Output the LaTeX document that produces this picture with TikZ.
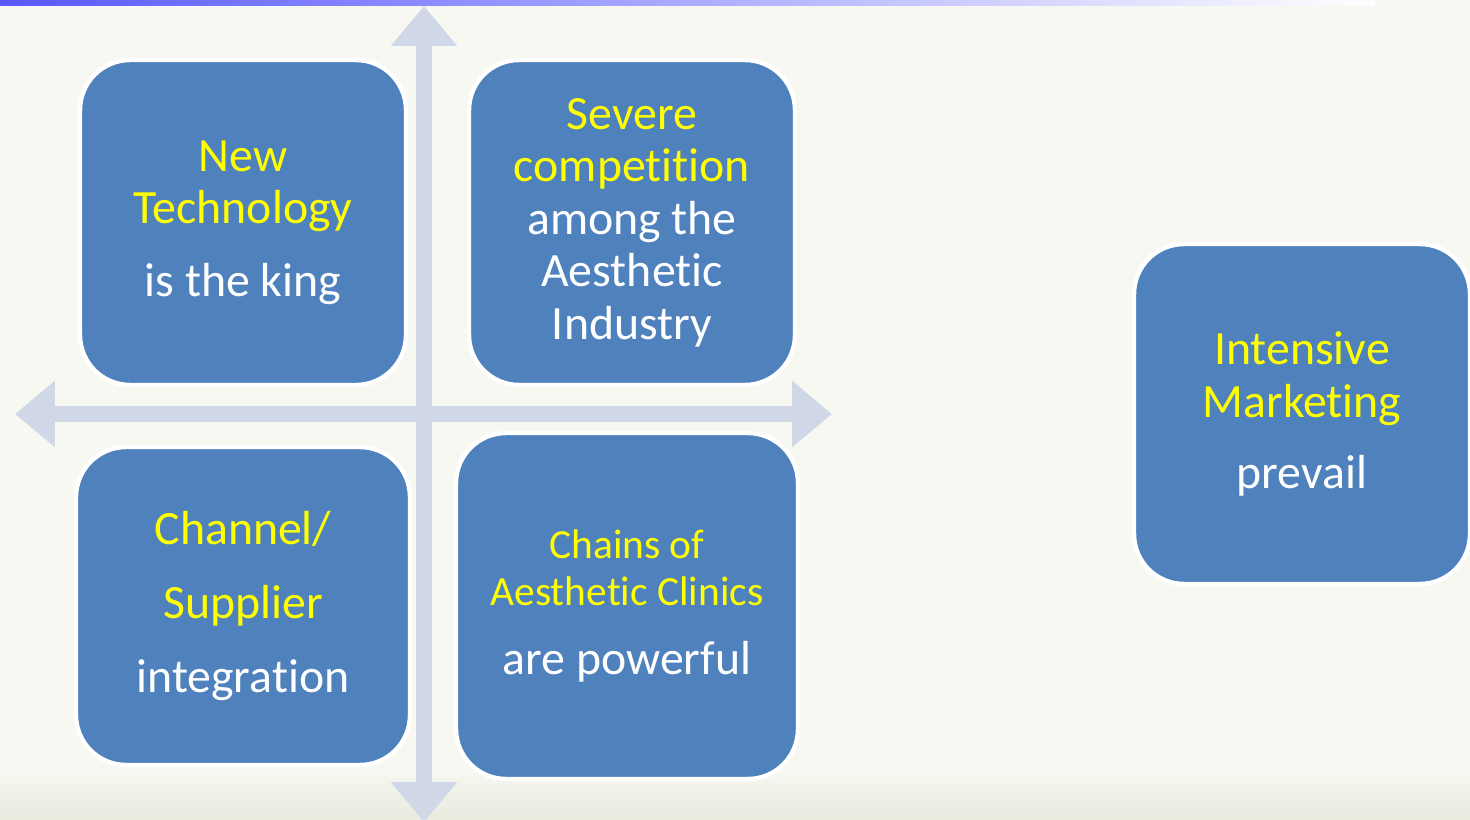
\documentclass[tikz,border=0pt]{standalone}
\usepackage{fontspec}
\setmainfont{Carlito}[Ligatures={NoCommon,NoContextual,NoRare}]
\usetikzlibrary{positioning,arrows.meta}
\definecolor{boxblue}{RGB}{79,129,189}
\definecolor{axisgray}{RGB}{208,216,232}
\definecolor{slidebg}{RGB}{247,248,242}
\definecolor{slidebottom}{RGB}{232,235,222}
\definecolor{hiyellow}{RGB}{255,255,0}
\definecolor{barblue}{RGB}{88,88,255}
\newcommand{\yl}[1]{\textcolor{hiyellow}{#1}}
\newcommand{\smallline}{\fontsize{23.6}{26}\selectfont}
\tikzset{
  quad/.style={rectangle,rounded corners=1cm,inner sep=0pt,fill=boxblue,
    draw=white,line width=2.5pt,align=center,text=white,
    font=\fontsize{27.2}{29.9}\selectfont},
  axis/.style={axisgray,line width=0.33cm,
    {Triangle[width=1.28cm,length=0.8cm]}-{Triangle[width=1.28cm,length=0.8cm]}}
}

\begin{document}
\begin{tikzpicture}[x=0.02cm,y=-0.02cm]
    % Slide background
    \fill[slidebg] (0,0) rectangle (1470,819);
    \useasboundingbox (0,0) rectangle (1470,819);
    \shade[top color=slidebg,bottom color=slidebottom] (0,770) rectangle (1470,819);
    \shade[left color=barblue,right color=white] (0,0) rectangle (1375,5);

    % Axis ends
    \coordinate (axis_top) at (424,6);
    \coordinate (axis_bottom) at (424,822);
    \coordinate (axis_left) at (15,414);
    \coordinate (axis_right) at (832,414);

    \draw[axis] (axis_left) -- (axis_right);
    \draw[axis] (axis_bottom) -- (axis_top);

    % Quadrants
    \node (quad_tech) [quad,minimum width=6.52cm,minimum height=6.5cm] at (243,222.5)
        {\yl{New}\\\yl{Technology}\\[11.5pt]is the king};
    \node (quad_competition) [quad,minimum width=6.52cm,minimum height=6.5cm] at (632,222.5)
        {\yl{Severe}\\\yl{competition}\\among the\\Aesthetic\\Industry};
    \node (quad_channel) [quad,minimum width=6.68cm,minimum height=6.36cm] at (243,606)
        {\yl{Channel/}\\[12pt]\yl{Supplier}\\[12pt]integration};
    \node (quad_chains) [quad,minimum width=6.84cm,minimum height=6.92cm] at (627,606)
        {\smallline\yl{Chains of}\\[-3.5pt]\smallline\yl{Aesthetic Clinics}\\[9.5pt]are powerful};

    % Outcome
    \node (marketing_box) [quad,minimum width=6.72cm,minimum height=6.8cm] at (1302,414)
        {\yl{Intensive}\\\yl{Marketing}\\[10.8pt]prevail};
\end{tikzpicture}
\end{document}
